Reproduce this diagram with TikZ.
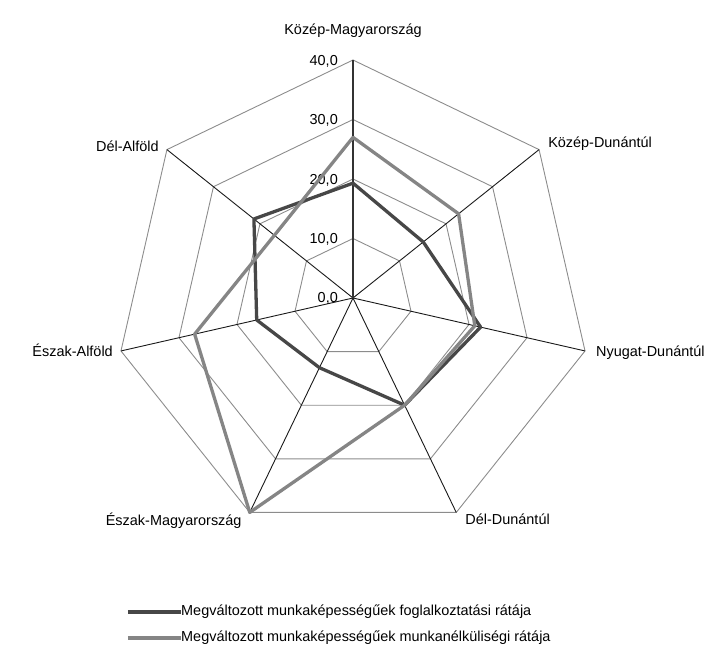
\documentclass[tikz,border=0pt]{standalone}
\usepackage{fontspec}
\setmainfont{Liberation Sans}
\usetikzlibrary{positioning}

\begin{document}
\begin{tikzpicture}[x=1bp,y=1bp,
	grid line/.style={
		draw=black!45,
		line width=0.9bp
	},
	axis line/.style={
		draw=black!90,
		line width=0.9bp
	},
	employ line/.style={
		draw=black!72,
		line width=3.3bp,
		line join=round
	},
	unemploy line/.style={
		draw=black!48,
		line width=3.3bp,
		line join=round
	},
	axis label/.style={
		font=\fontsize{14.5}{16}\selectfont,
		inner sep=0pt
	},
	tick label/.style={
		font=\fontsize{14.5}{16}\selectfont,
		inner sep=0pt
	},
]
	\useasboundingbox (-353,-352) rectangle (359,298);
	\coordinate (c) at (0,0);
	\foreach \k in {0,...,6}
		\coordinate (v\k) at ({90-\k*360/7}:238);
	% grid
	\foreach \r in {1,...,4} {
		\draw[grid line] (90:{\r*59.5})
			\foreach \k in {1,...,6} { -- ({90-\k*360/7}:{\r*59.5}) } -- cycle;
	}
	\foreach \k in {1,...,6}
		\draw[axis line] (c) -- (v\k);
	\draw[axis line,line width=1.5bp,draw=black!80] (c) -- (v0);
	% values
	\node[tick label, left=15bp of c] (t0) {0,0};
	\foreach \r in {1,...,4} {
		\coordinate (g\r) at (90:{\r*59.5});
		\node[tick label, left=15bp of g\r, yshift=-1bp] (t\r) {\r0,0};
	}
	% series
	\foreach \v [count=\k from 0] in {19.3,15.1,22.0,20.0,13.0,16.6,21.3}
		\coordinate (a\k) at ({90-\k*360/7}:{\v*5.95});
	\foreach \v [count=\k from 0] in {27.0,22.7,21.0,20.0,40.0,27.3,16.9}
		\coordinate (b\k) at ({90-\k*360/7}:{\v*5.95});
	\draw[employ line] (a0) -- (a1) -- (a2) -- (a3) -- (a4) -- (a5) -- (a6) -- cycle;
	\draw[unemploy line] (b0) -- (b1) -- (b2) -- (b3) -- (b4) -- (b5) -- (b6) -- cycle;
	% category labels
	\node[axis label, above=22bp of v0] (l0) {Közép-Magyarország};
	\node[axis label, right=9bp of v1, yshift=6bp] (l1) {Közép-Dunántúl};
	\node[axis label, right=11bp of v2, yshift=-2bp] (l2) {Nyugat-Dunántúl};
	\node[axis label, right=9bp of v3, yshift=-7bp] (l3) {Dél-Dunántúl};
	\node[axis label, left=8bp of v4, yshift=-8bp] (l4) {Észak-Magyarország};
	\node[axis label, left=8bp of v5, yshift=1bp] (l5) {Észak-Alföld};
	\node[axis label, left=8bp of v6, yshift=3bp] (l6) {Dél-Alföld};
	% legend
	\node[axis label, anchor=west] (e1) at (-172,-314) {Megváltozott munkaképességűek foglalkoztatási rátája};
	\node[axis label, anchor=west] (e2) at (-172,-340) {Megváltozott munkaképességűek munkanélküliségi rátája};
	\coordinate (e1s) at (-225,-314);
	\coordinate (e2s) at (-225,-340);
	\draw[employ line] (e1s) -- (e1.west);
	\draw[unemploy line] (e2s) -- (e2.west);
\end{tikzpicture}
\end{document}
